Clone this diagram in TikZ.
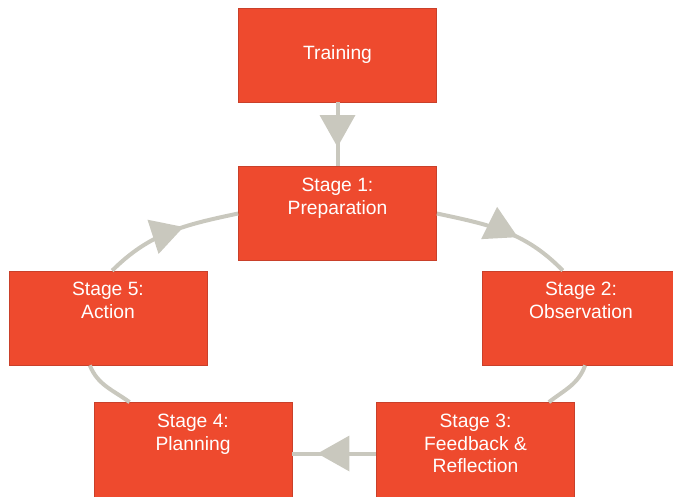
\documentclass[tikz,border=0pt]{standalone}
\usepackage{fontspec}
\setmainfont{Liberation Sans}
\usetikzlibrary{arrows.meta,decorations.markings}
\definecolor{boxred}{HTML}{EE4A2E}
\definecolor{boxedge}{HTML}{C9402A}
\definecolor{flowgrey}{HTML}{C9C8BE}
\newcommand{\boxtext}[2][2.35cm]{\parbox[c][#1][t]{4.9cm}{\centering\rule{0pt}{17.5pt}#2}}

\begin{document}
\begin{tikzpicture}[
	stagebox/.style={draw=boxedge, line width=0.5pt, fill=boxred, text=white, inner sep=0pt,
		minimum width=4.95cm, minimum height=2.35cm, font=\fontsize{13.7}{16.3}\selectfont},
	lowbox/.style={stagebox, minimum height=2.55cm},
	flow/.style={flowgrey, line width=0.1cm},
	midarrow/.style={postaction={decorate}, decoration={markings,
		mark=at position #1 with {\arrow{Triangle[length=0.8cm, width=0.9cm, line width=0pt]}}}}
	]
	\useasboundingbox (0,0) rectangle (16.825,12.4);
	\clip (0,0) rectangle (16.825,12.4);
	% boxes
	\node[stagebox] (train) at (8.4375,11.025) {Training};
	\node[stagebox] (st1) at (8.4375,7.0625) {\boxtext{Stage 1:\\Preparation}};
	\node[stagebox] (st2) at (14.525,4.45) {\boxtext{Stage 2:\\Observation}};
	\node[lowbox] (st3) at (11.8875,1.0625) {\boxtext[2.55cm]{Stage 3:\\Feedback \&\\Reflection}};
	\node[lowbox] (st4) at (4.825,1.0625) {\boxtext[2.55cm]{Stage 4:\\Planning}};
	\node[stagebox] (st5) at (2.7,4.45) {\boxtext{Stage 5:\\Action}};
	% cycle
	\draw[flow, midarrow=0.7] (train) -- (st1);
	\draw[flow, midarrow=0.6] (st1.east) to[out=-12, in=134] (st2.111);
	\draw[flow] (st2.-85) to[out=-110, in=38] (st3.35);
	\draw[flow, midarrow=0.7] (st3.west) -- (st4.east);
	\draw[flow] (st4.141) to[out=144, in=-68] (st5.-111);
	\draw[flow, midarrow=0.6] (st5.85) to[out=45, in=-168] (st1.west);
\end{tikzpicture}
\end{document}
